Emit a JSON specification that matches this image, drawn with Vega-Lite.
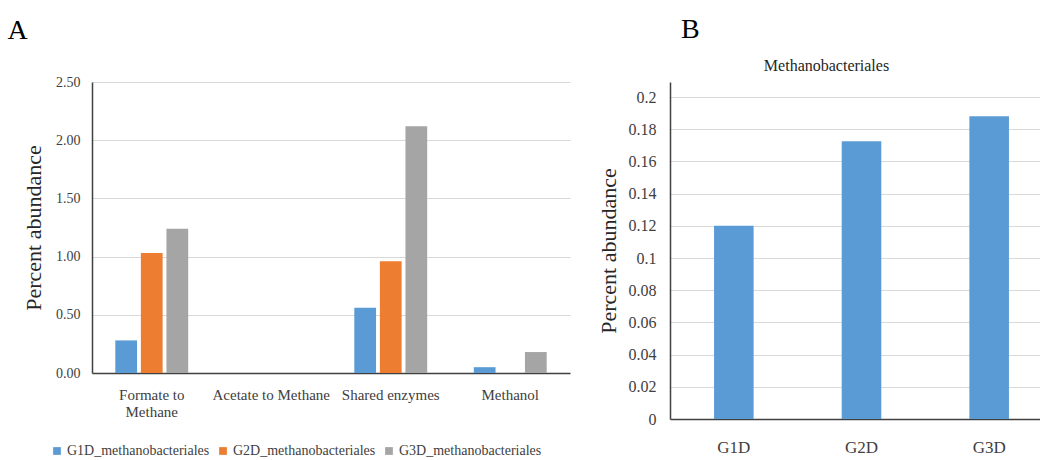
{
  "$schema": "https://vega.github.io/schema/vega-lite/v6.json",
  "background": "white",
  "padding": {"left": 7, "top": 16, "right": 0, "bottom": 0},
  "spacing": 27,
  "config": {
    "font": "Times New Roman",
    "view": {"stroke": null},
    "axis": {
      "labelFont": "Times New Roman",
      "titleFont": "Times New Roman",
      "labelColor": "#404040",
      "titleColor": "#262626",
      "titleFontWeight": "normal",
      "gridColor": "#d9d9d9",
      "domainColor": "#404040",
      "ticks": false
    },
    "legend": {"labelFont": "Times New Roman"},
    "title": {"font": "Times New Roman", "fontWeight": "normal", "color": "#000000"}
  },
  "hconcat": [
    {
      "title": {"text": "A", "anchor": "start", "frame": "bounds", "fontSize": 28, "dx": -15, "offset": 30},
      "data": {
        "values": [
          {"pathway": "Formate to Methane", "sample": "G1D_methanobacteriales", "abundance": 0.28},
          {"pathway": "Formate to Methane", "sample": "G2D_methanobacteriales", "abundance": 1.03},
          {"pathway": "Formate to Methane", "sample": "G3D_methanobacteriales", "abundance": 1.24},
          {"pathway": "Acetate to Methane", "sample": "G1D_methanobacteriales", "abundance": 0},
          {"pathway": "Acetate to Methane", "sample": "G2D_methanobacteriales", "abundance": 0},
          {"pathway": "Acetate to Methane", "sample": "G3D_methanobacteriales", "abundance": 0},
          {"pathway": "Shared enzymes", "sample": "G1D_methanobacteriales", "abundance": 0.56},
          {"pathway": "Shared enzymes", "sample": "G2D_methanobacteriales", "abundance": 0.96},
          {"pathway": "Shared enzymes", "sample": "G3D_methanobacteriales", "abundance": 2.12},
          {"pathway": "Methanol", "sample": "G1D_methanobacteriales", "abundance": 0.05},
          {"pathway": "Methanol", "sample": "G2D_methanobacteriales", "abundance": 0},
          {"pathway": "Methanol", "sample": "G3D_methanobacteriales", "abundance": 0.18}
        ]
      },
      "width": 478,
      "height": 291,
      "mark": {"type": "bar"},
      "encoding": {
        "x": {
          "field": "pathway", "type": "nominal", "sort": null,
          "scale": {"paddingInner": 0.39, "paddingOuter": 0.195},
          "axis": {
            "title": null, "labelAngle": 0, "labelFontSize": 15, "labelPadding": 14,
            "labelFont": "Times New Roman",
            "labelExpr": "datum.value == 'Formate to Methane' ? ['Formate to', 'Methane'] : datum.value",
            "domainWidth": 1.5
          }
        },
        "xOffset": {"field": "sample", "type": "nominal", "sort": null, "scale": {"paddingInner": 0.15}},
        "y": {
          "field": "abundance", "type": "quantitative",
          "scale": {"domain": [0, 2.5]},
          "axis": {
            "title": "Percent abundance", "titleFontSize": 22, "titlePadding": 10,
            "labelFont": "Times New Roman", "titleFont": "Times New Roman",
            "values": [0, 0.5, 1, 1.5, 2, 2.5], "format": ".2f",
            "labelFontSize": 14, "labelPadding": 12, "domainWidth": 1.5
          }
        },
        "color": {
          "field": "sample", "type": "nominal", "sort": null,
          "scale": {"range": ["#5b9bd5", "#ed7d31", "#a5a5a5"]},
          "legend": {
            "title": null, "orient": "none", "legendX": -42, "legendY": 362, "direction": "horizontal",
            "symbolType": "square", "symbolSize": 60, "labelFontSize": 14,
            "labelFont": "Times New Roman", "labelColor": "#404040",
            "labelOffset": 3, "columnPadding": 6, "labelLimit": 300
          }
        }
      }
    },
    {
      "title": {"text": "B", "anchor": "start", "frame": "bounds", "fontSize": 28, "dx": 84, "offset": 14},
      "vconcat": [
        {
          "title": {"text": "Methanobacteriales", "fontSize": 16, "anchor": "middle", "dx": -35, "offset": 8, "color": "#262626"},
          "data": {
            "values": [
              {"group": "G1D", "abundance": 0.12},
              {"group": "G2D", "abundance": 0.1725},
              {"group": "G3D", "abundance": 0.188}
            ]
          },
          "width": 383,
          "height": 337,
          "mark": {"type": "bar", "color": "#5b9bd5"},
          "encoding": {
            "x": {
              "field": "group", "type": "nominal", "sort": null,
              "scale": {"paddingInner": 0.69, "paddingOuter": 0.345},
              "axis": {"title": null, "labelAngle": 0, "labelFontSize": 17, "labelPadding": 20, "domainWidth": 1.5, "labelFont": "Times New Roman"}
            },
            "y": {
              "field": "abundance", "type": "quantitative",
              "scale": {"domain": [0, 0.20932], "nice": false},
              "axis": {
                "title": "Percent abundance", "titleFontSize": 22, "titlePadding": 8,
                "labelFont": "Times New Roman", "titleFont": "Times New Roman",
                "values": [0, 0.02, 0.04, 0.06, 0.08, 0.1, 0.12, 0.14, 0.16, 0.18, 0.2],
                "format": "~g", "labelFontSize": 16, "labelPadding": 14, "domainWidth": 1.5
              }
            }
          }
        }
      ]
    }
  ]
}
